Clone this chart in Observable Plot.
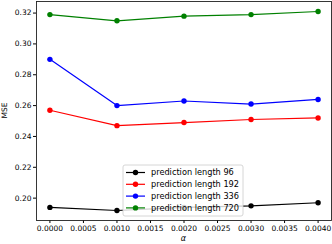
<!DOCTYPE html>
<html>
<head>
<meta charset="utf-8">
<script src="https://cdn.jsdelivr.net/npm/d3@7"></script>
<script src="https://cdn.jsdelivr.net/npm/@observablehq/plot@0.6"></script>
<style>
  html, body { margin: 0; padding: 0; background: #fff; }
</style>
</head>
<body>
<div id="chart"></div>
<script>
const alpha = [0, 0.001, 0.002, 0.003, 0.004];
const mse96 = [0.194, 0.192, 0.194, 0.195, 0.197];
const mse192 = [0.257, 0.247, 0.249, 0.251, 0.252];
const mse336 = [0.290, 0.260, 0.263, 0.261, 0.264];
const mse720 = [0.319, 0.315, 0.318, 0.319, 0.321];
const seriesNames = ["prediction length 96", "prediction length 192", "prediction length 336", "prediction length 720"];
const seriesColors = ["black", "red", "blue", "green"];
const xTicks = [0, 0.0005, 0.001, 0.0015, 0.002, 0.0025, 0.003, 0.0035, 0.004];
const yTicks = [0.20, 0.22, 0.24, 0.26, 0.28, 0.30, 0.32];

const allSeries = [mse96, mse192, mse336, mse720];
const data = [];
allSeries.forEach((vals, i) => vals.forEach((v, j) => data.push({series: seriesNames[i], alpha: alpha[j], mse: v})));

const font = "DejaVu Sans, sans-serif";
const chart = Plot.plot({
  width: 332,
  height: 244,
  marginLeft: 36,
  marginRight: 1,
  marginTop: 1,
  marginBottom: 24,
  style: {fontFamily: font, fontSize: "7.5px", background: "white", color: "black"},
  x: {domain: [-0.0002, 0.0042]},
  y: {domain: [0.1855, 0.3275]},
  color: {domain: seriesNames, range: seriesColors},
  marks: [
    Plot.axisX({ticks: xTicks, tickFormat: d3.format(".4f"), tickSize: 3, tickPadding: 2, label: null}),
    Plot.axisY({ticks: yTicks, tickFormat: d3.format(".2f"), tickSize: 3, tickPadding: 2, label: null}),
    Plot.line(data, {x: "alpha", y: "mse", z: "series", stroke: "series", strokeWidth: 1.2}),
    Plot.dot(data, {x: "alpha", y: "mse", fill: "series", r: 2.7}),
    Plot.frame({stroke: "#222", strokeWidth: 0.9})
  ]
});
document.getElementById("chart").appendChild(chart);

const svg = d3.select(chart);
const xs = chart.scale("x"), ys = chart.scale("y");
// axis titles
svg.append("text")
  .attr("x", (xs.range[0] + xs.range[1]) / 2).attr("y", 241)
  .attr("text-anchor", "middle").attr("font-style", "italic")
  .attr("font-family", font).attr("font-size", "8px").text("α");
svg.append("text")
  .attr("transform", `translate(7,${(ys.range[0] + ys.range[1]) / 2}) rotate(-90)`)
  .attr("text-anchor", "middle").attr("font-family", font).attr("font-size", "7.5px").text("MSE");

// legend
const lg = svg.append("g").attr("transform", "translate(123,165)");
lg.append("rect").attr("width", 120).attr("height", 51).attr("rx", 2)
  .attr("fill", "white").attr("fill-opacity", 0.8).attr("stroke", "#ccc").attr("stroke-width", 0.8);
seriesNames.forEach((name, i) => {
  const yy = 7.5 + i * 11.8;
  const row = lg.append("g").attr("transform", `translate(0,${yy})`);
  row.append("line").attr("x1", 3).attr("x2", 22).attr("stroke", seriesColors[i]).attr("stroke-width", 1.2);
  row.append("circle").attr("cx", 12.5).attr("r", 2.7).attr("fill", seriesColors[i]);
  row.append("text").attr("x", 28).attr("dy", "0.35em").attr("text-anchor", "start")
    .attr("font-family", font).attr("font-size", "8.2px").text(name);
});
</script>
</body>
</html>
